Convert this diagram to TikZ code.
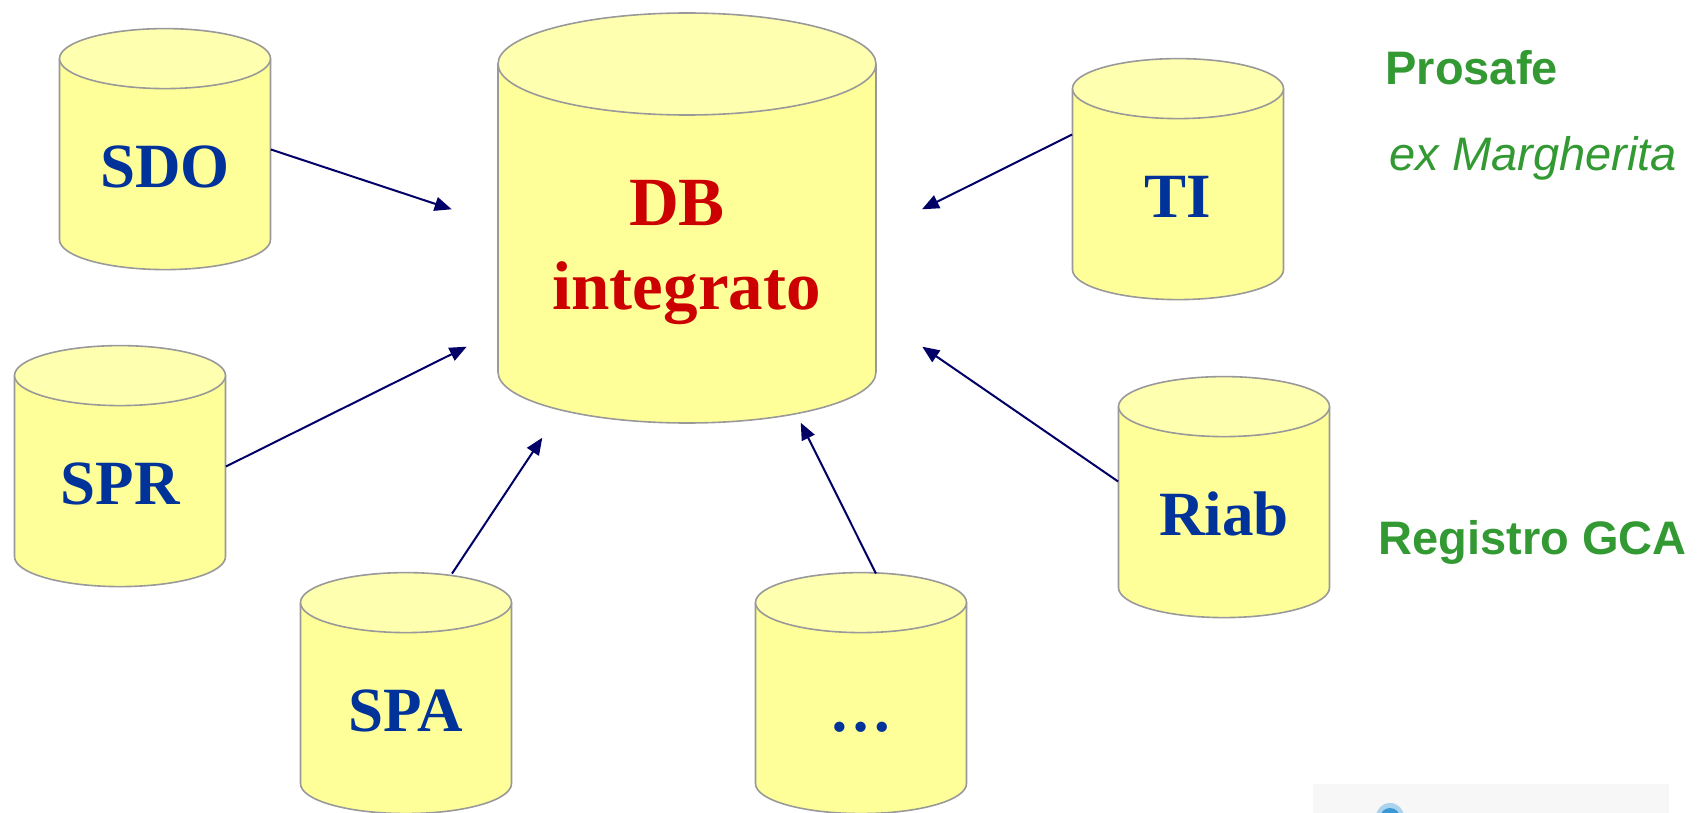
\documentclass[tikz,border=0pt]{standalone}
\usepackage{fontspec}
\setmainfont{Liberation Serif}
\newfontfamily\notesans{Liberation Sans}
\usetikzlibrary{arrows.meta,calc,backgrounds}

\definecolor{cylbody}{HTML}{FFFF99}
\definecolor{cyltop}{HTML}{FFFFB0}
\definecolor{cylrim}{HTML}{999999}
\definecolor{srcblue}{HTML}{003399}
\definecolor{dbred}{HTML}{CC0000}
\definecolor{notegreen}{HTML}{339933}
\definecolor{feed}{HTML}{000066}
\definecolor{logogray}{HTML}{F7F7F7}
\definecolor{logohalo}{HTML}{A9D3EE}
\definecolor{logoblue}{HTML}{3C98D4}

\tikzset{
  % database cylinder: #1 = x radius, #2 = y radius, #3 = body height
  pics/dbcyl/.style n args={3}{code={
    \fill[cylbody] (-#1,0) -- (-#1,#3)
      arc[start angle=180,end angle=0,x radius=#1,y radius=#2] -- (#1,0) -- cycle;
    \draw[cylrim, line width=0.8pt] (-#1,0) -- (-#1,#3)
      arc[start angle=180,end angle=0,x radius=#1,y radius=#2] -- (#1,0);
    \filldraw[fill=cyltop, draw=cylrim, line width=0.8pt]
      (0,0) ellipse[x radius=#1,y radius=#2];
  }},
  source/.style={anchor=base, inner sep=0pt, minimum width=105.5pt,
    text height=79pt, text depth=41.5pt,
    font=\fontsize{31.5}{36}\selectfont\bfseries, text=srcblue},
  dbtext/.style={anchor=base, inner sep=0pt,
    font=\fontsize{34.5}{40}\selectfont\bfseries, text=dbred},
  note/.style={anchor=base west, inner sep=0pt,
    font=\notesans\fontsize{23.5}{28}\selectfont, text=notegreen},
  feedarrow/.style={draw=feed, line width=1pt,
    -{Triangle[length=8.5pt,width=7pt]}},
}

\begin{document}
\begin{tikzpicture}[x=0.5pt, y=-0.5pt]
\useasboundingbox (0,0) rectangle (1698,813);

% central database
\begin{scope}[on background layer]
  \pic at (687,64) {dbcyl={189}{51}{308}};
\end{scope}
\node[dbtext] (dbtitle) at (677,226) {DB};
\node[dbtext] (dbsub) at (686.5,309) {integrato};

% source databases
\node[source] (sdo)  at (165,187)  {SDO};
\node[source] (spr)  at (120,504)  {SPR};
\node[source] (spa)  at (406,731)  {SPA};
\node[source] (more) at (861,731)  {…};
\node[source] (ti)   at (1178,217) {TI};
\node[source] (riab) at (1224,535) {Riab};

\begin{scope}[on background layer]
  \foreach \n in {sdo,spr,spa,more,ti,riab}
    \pic at ($(\n.north)+(0,30)$) {dbcyl={105.5}{30}{181}};
\end{scope}

% arrow heads stop short of the central cylinder
\coordinate (in-sdo)  at (451.7,209.3);
\coordinate (in-spr)  at (466.7,346.7);
\coordinate (in-spa)  at (542.3,437.7);
\coordinate (in-more) at (800.7,422.7);
\coordinate (in-ti)   at (922,209.3);
\coordinate (in-riab) at (922.3,346.7);

\draw[feedarrow] (sdo.east) -- (in-sdo);
\draw[feedarrow] (spr.east) -- (in-spr);
\draw[feedarrow] ($(spa.north)+(46,1)$) -- (in-spa);
\draw[feedarrow] ($(more.north)+(15,1)$) -- (in-more);
\draw[feedarrow] ($(ti.west)+(0,-45)$) -- (in-ti);
\draw[feedarrow] ($(riab.west)+(0,-16)$) -- (in-riab);

% side notes
\node[note, font=\notesans\fontsize{23.5}{28}\selectfont\bfseries] (prosafe) at (1385,85) {Prosafe};
\node[note, font=\notesans\fontsize{23.5}{28}\selectfont\itshape] (margherita) at (1389,170) {ex Margherita};
\node[note, font=\notesans\fontsize{23.5}{28}\selectfont\bfseries] (gca) at (1378,554) {Registro GCA};

% logo strip along the lower edge
\fill[logogray] (1313,784) rectangle (1669,813);
\fill[logohalo] (1390,817) circle[radius=14];
\fill[logoblue] (1390,818) circle[radius=10];
\end{tikzpicture}
\end{document}
